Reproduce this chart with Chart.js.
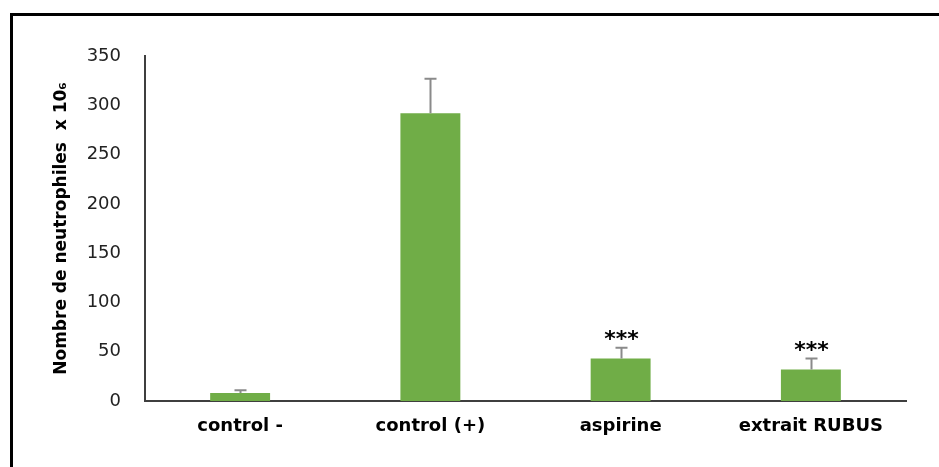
<!DOCTYPE html>
<html>
<head>
<meta charset="utf-8">
<script src="https://cdn.jsdelivr.net/npm/chart.js@4"></script>
<style>
  html, body { margin: 0; padding: 0; background: #fff; }
  #wrap { width: 939px; height: 467px; position: relative; }
</style>
</head>
<body>
<div id="wrap"><canvas id="c" width="939" height="467"></canvas></div>
<script>
// Neutrophil counts per treatment group (x 10^6), mean and SD
const categories = ["control -", "control (+)", "aspirine", "extrait RUBUS"];
const means = [8, 292, 43, 32];
const sds = [3, 35, 11, 11];
const significance = ["", "", "***", "***"];
const yTicks = [0, 50, 100, 150, 200, 250, 300, 350];

const FONT = "'DejaVu Sans', Verdana, sans-serif";

// Outer frame (top and left edges)
const framePlugin = {
  id: 'frame',
  beforeDraw(chart) {
    const ctx = chart.ctx;
    ctx.save();
    ctx.strokeStyle = '#000';
    ctx.lineWidth = 3;
    ctx.beginPath();
    ctx.moveTo(11.5, 467);
    ctx.lineTo(11.5, 14.5);
    ctx.lineTo(939, 14.5);
    ctx.stroke();
    ctx.restore();
  }
};

// Upper error whiskers and significance stars
const errorPlugin = {
  id: 'errors',
  afterDatasetsDraw(chart) {
    const ctx = chart.ctx;
    const x = chart.scales.x, y = chart.scales.y;
    ctx.save();
    ctx.strokeStyle = '#8a8a8a';
    ctx.lineWidth = 2;
    means.forEach((m, i) => {
      const cx = Math.round(x.getPixelForValue(i)) + 0.5;
      const top = y.getPixelForValue(m + sds[i]);
      const base = y.getPixelForValue(m);
      ctx.beginPath();
      ctx.moveTo(cx, base);
      ctx.lineTo(cx, top);
      ctx.moveTo(cx - 6, top);
      ctx.lineTo(cx + 6, top);
      ctx.stroke();
      if (significance[i]) {
        ctx.fillStyle = '#000';
        ctx.font = "bold 22px " + FONT;
        ctx.textAlign = 'center';
        ctx.textBaseline = 'alphabetic';
        ctx.fillText(significance[i], cx, top - 2);
      }
    });
    ctx.restore();
  }
};

new Chart(document.getElementById('c'), {
  type: 'bar',
  data: {
    labels: categories,
    datasets: [{
      data: means,
      backgroundColor: '#70ad47',
      borderWidth: 0,
      categoryPercentage: 1,
      barPercentage: 0.315
    }]
  },
  options: {
    responsive: false,
    animation: false,
    events: [],
    layout: { padding: { top: 56, right: 33, left: 0, bottom: 0 } },
    plugins: { legend: { display: false }, tooltip: { enabled: false } },
    scales: {
      x: {
        grid: { display: false, drawTicks: false },
        border: { color: '#3f3f3f', width: 2 },
        ticks: {
          color: '#000',
          font: { family: FONT, size: 18, weight: 'bold' },
          padding: 15,
          maxRotation: 0
        },
        afterFit(scale) { scale.height = 66; }
      },
      y: {
        min: 0,
        max: 350,
        afterBuildTicks(scale) { scale.ticks = yTicks.map(v => ({ value: v })); },
        grid: { display: false, drawTicks: false },
        border: { color: '#3f3f3f', width: 2 },
        ticks: {
          color: '#222',
          font: { family: FONT, size: 18 },
          padding: 24
        },
        title: {
          display: true,
          text: 'Nombre de neutrophiles  x 10\u2086',
          color: '#000',
          font: { family: FONT, size: 17, weight: 'bold' },
          padding: { top: 51, bottom: 0 }
        },
        afterFit(scale) { scale.width = 145; }
      }
    }
  },
  plugins: [framePlugin, errorPlugin]
});
</script>
</body>
</html>
